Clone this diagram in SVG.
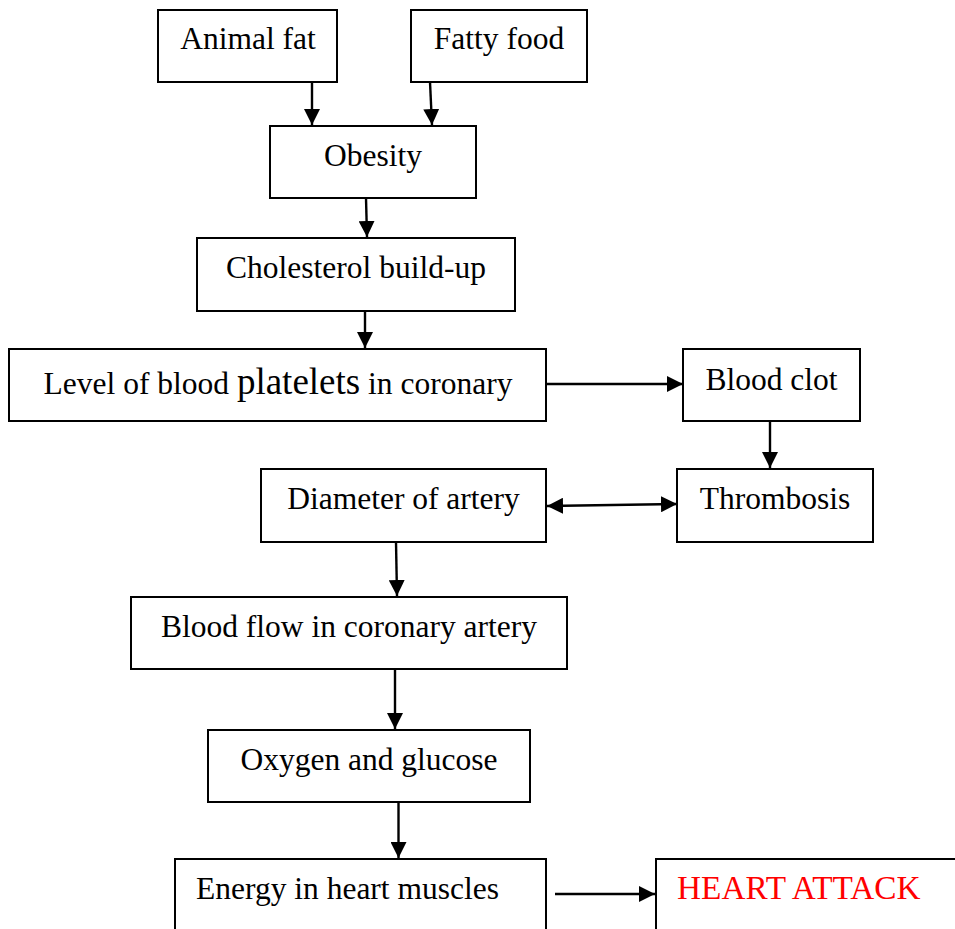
<svg xmlns="http://www.w3.org/2000/svg" width="955" height="929" viewBox="0 0 955 929">
<style>
.box{fill:#fff;stroke:#000;stroke-width:2}
.t{font-family:"Liberation Serif","Times New Roman",serif;font-size:31.5px;fill:#000;text-anchor:middle}
.l{text-anchor:start}
.red{fill:#ff0000;font-size:33.3px}
.c{stroke:#000;stroke-width:2.4;fill:none}
</style>
<defs>
<marker id="ah" markerUnits="userSpaceOnUse" markerWidth="16" markerHeight="16" viewBox="0 0 14 14" refX="14" refY="7" orient="auto-start-reverse">
<path d="M0,0 L14,7 L0,14 Z" fill="#000"/>
</marker>
</defs>
<rect x="0" y="0" width="955" height="929" fill="#fff"/>
<g id="connectors">
<line class="c" x1="312" y1="82" x2="312" y2="125" marker-end="url(#ah)"/>
<line class="c" x1="430" y1="82" x2="432" y2="125" marker-end="url(#ah)"/>
<line class="c" x1="366" y1="198" x2="367" y2="237" marker-end="url(#ah)"/>
<line class="c" x1="365" y1="311" x2="365" y2="348" marker-end="url(#ah)"/>
<line class="c" x1="546" y1="384" x2="683" y2="384" marker-end="url(#ah)"/>
<line class="c" x1="770" y1="421" x2="770" y2="468" marker-end="url(#ah)"/>
<line class="c" x1="547" y1="506" x2="677" y2="504" marker-start="url(#ah)" marker-end="url(#ah)"/>
<line class="c" x1="396" y1="542" x2="397" y2="596" marker-end="url(#ah)"/>
<line class="c" x1="395" y1="669" x2="395" y2="729" marker-end="url(#ah)"/>
<line class="c" x1="398.5" y1="802" x2="398.5" y2="858" marker-end="url(#ah)"/>
<line class="c" x1="555" y1="894" x2="655" y2="894" marker-end="url(#ah)"/>
</g>
<g id="animal-fat"><rect class="box" x="158" y="10" width="179" height="72"/><text class="t" x="248" y="49">Animal fat</text></g>
<g id="fatty-food"><rect class="box" x="411" y="10" width="176" height="72"/><text class="t" x="499" y="49">Fatty food</text></g>
<g id="obesity"><rect class="box" x="270" y="126" width="206" height="72"/><text class="t" x="373" y="166">Obesity</text></g>
<g id="cholesterol"><rect class="box" x="197" y="238" width="318" height="73"/><text class="t" x="356" y="278">Cholesterol build-up</text></g>
<g id="platelets"><rect class="box" x="9" y="349" width="537" height="72"/><text class="t" x="278" y="394">Level of blood <tspan font-size="37px">platelets</tspan> in coronary</text></g>
<g id="blood-clot"><rect class="box" x="683" y="349" width="177" height="72"/><text class="t" x="771.5" y="390">Blood clot</text></g>
<g id="diameter"><rect class="box" x="261" y="469" width="285" height="73"/><text class="t" x="403.5" y="509">Diameter of artery</text></g>
<g id="thrombosis"><rect class="box" x="677" y="469" width="196" height="73"/><text class="t" x="775" y="509">Thrombosis</text></g>
<g id="blood-flow"><rect class="box" x="131" y="597" width="436" height="72"/><text class="t" x="349" y="637">Blood flow in coronary artery</text></g>
<g id="oxygen"><rect class="box" x="208" y="730" width="322" height="72"/><text class="t" x="369" y="770">Oxygen and glucose</text></g>
<g id="energy"><rect class="box" x="175" y="859" width="371" height="100"/><text class="t l" x="196" y="899">Energy in heart muscles</text></g>
<g id="heart-attack"><rect class="box" x="656" y="859" width="330" height="100"/><text class="t l red" x="677" y="899">HEART ATTACK</text></g>
</svg>
